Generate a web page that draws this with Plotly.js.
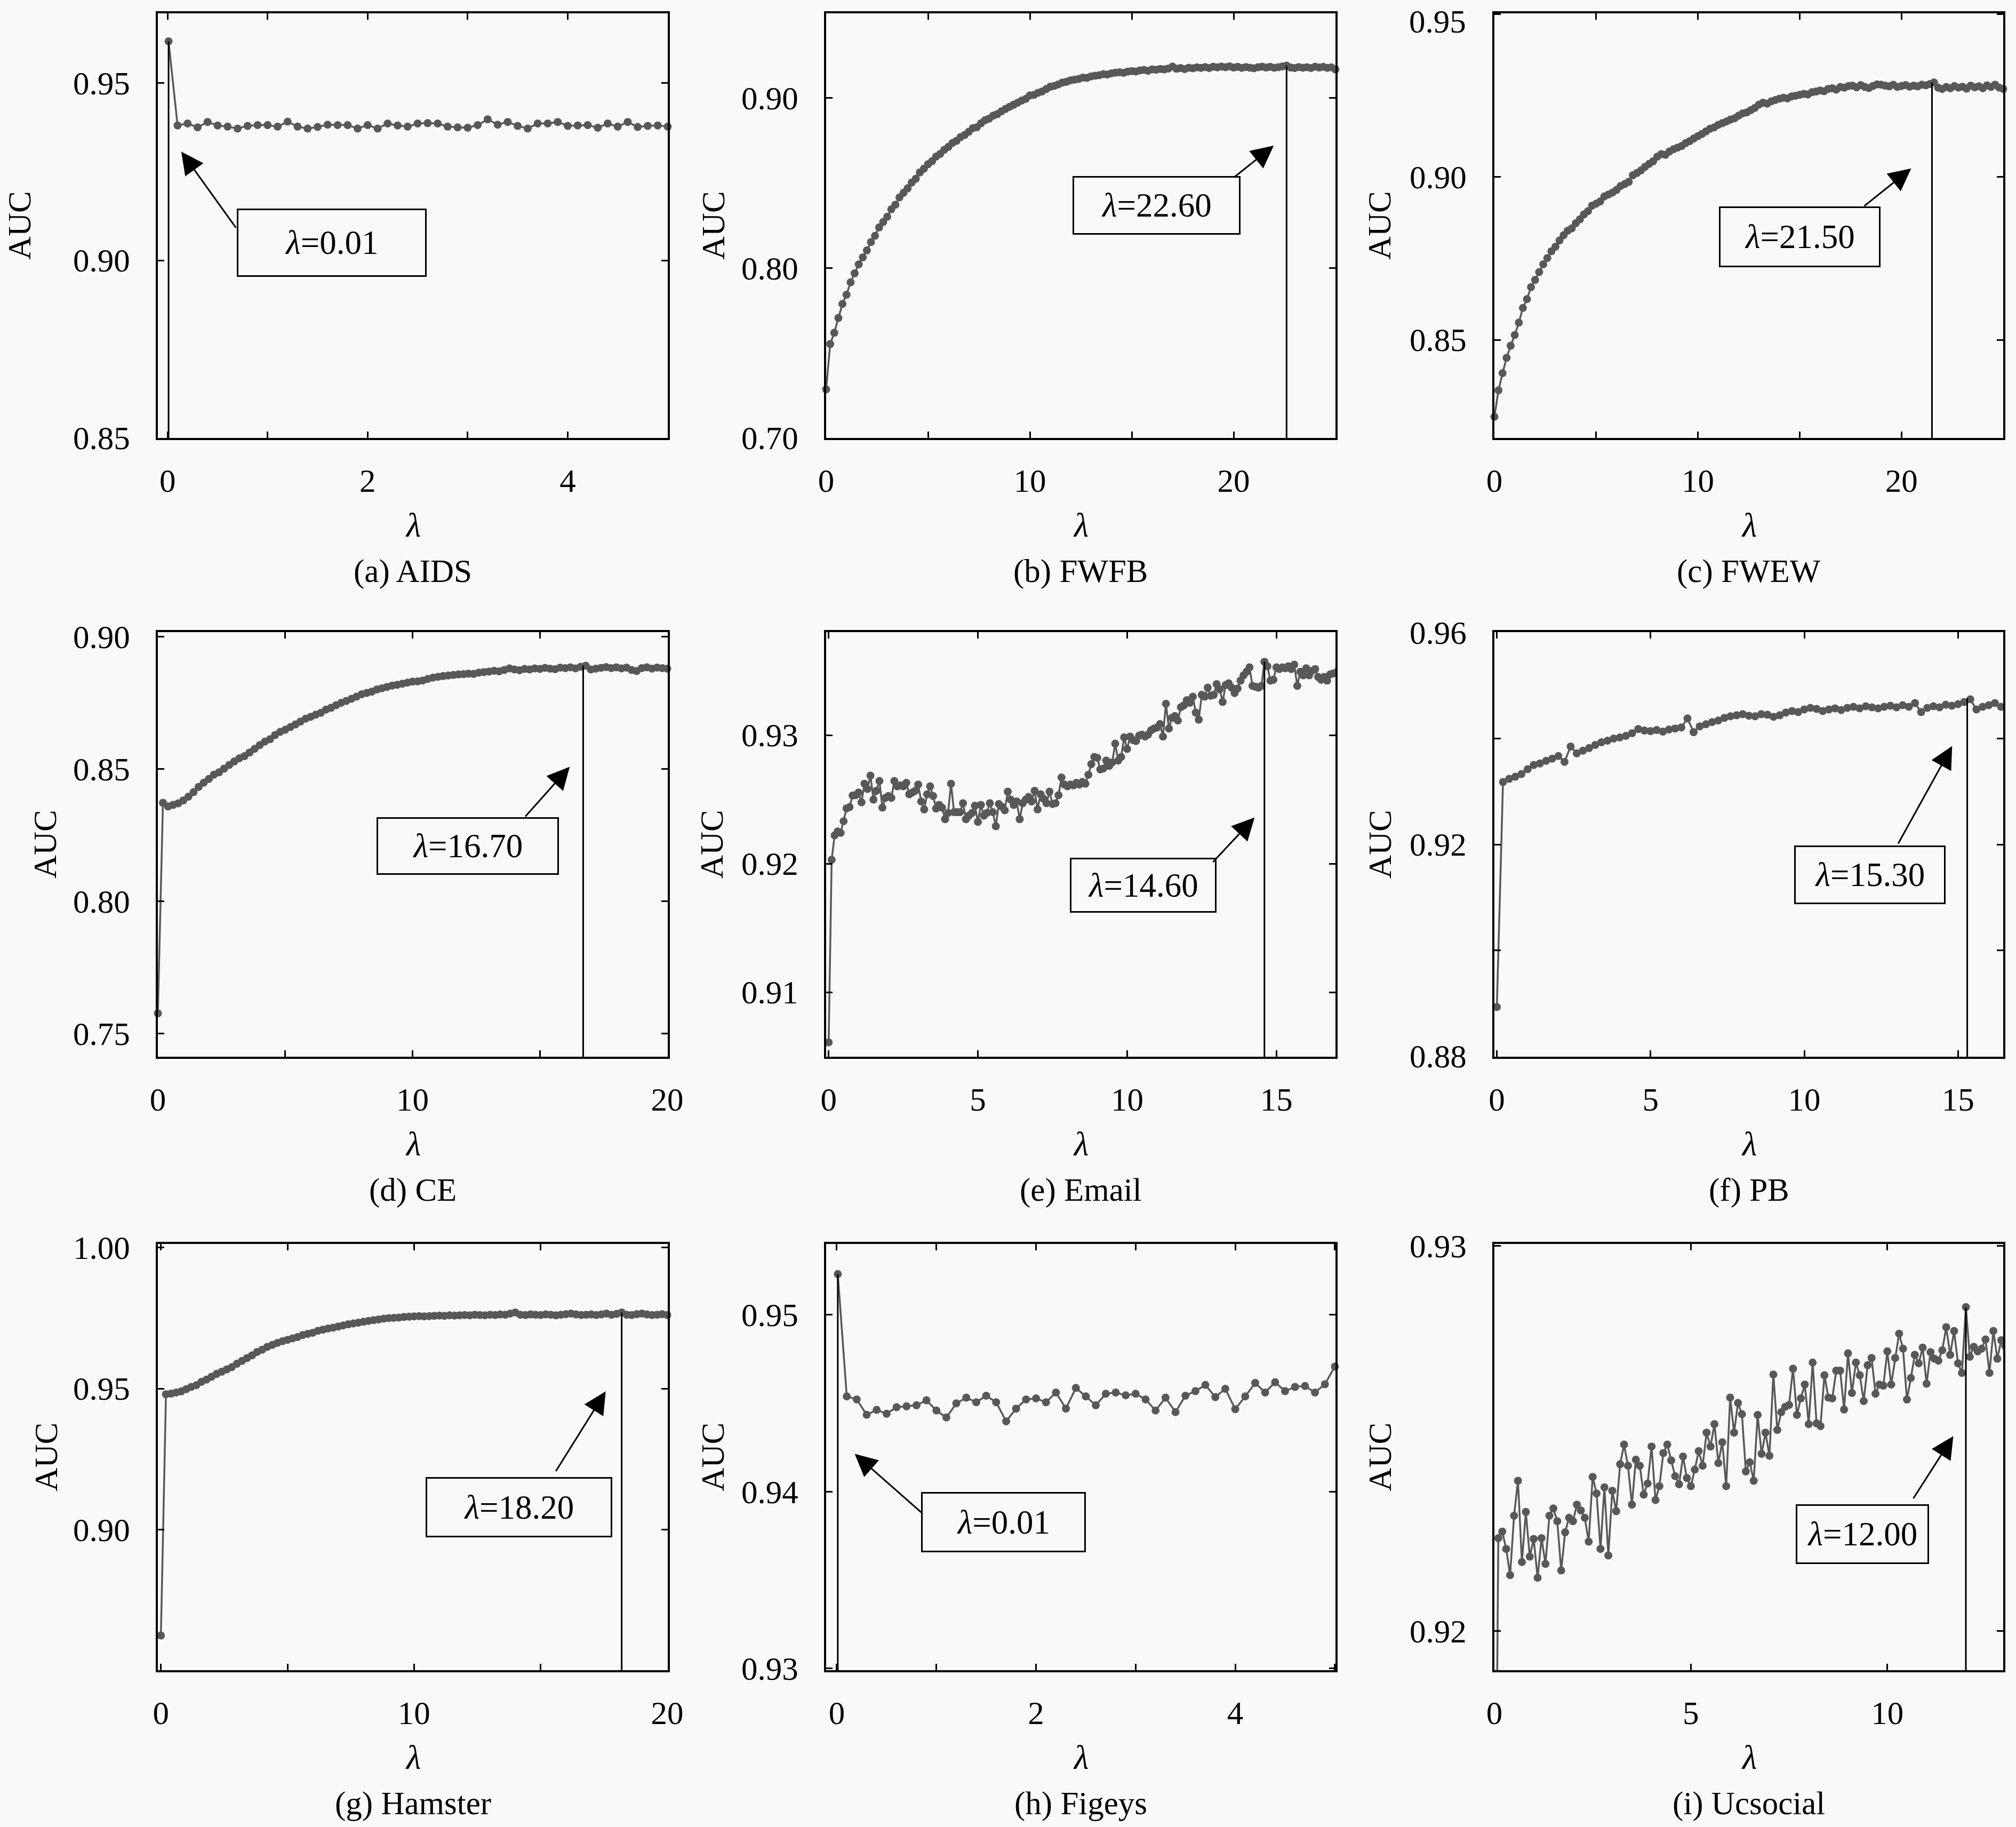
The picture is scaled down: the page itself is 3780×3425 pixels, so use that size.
<!DOCTYPE html>
<html>
<head>
<meta charset="utf-8">
<script src="https://cdn.plot.ly/plotly-3.0.1.min.js"></script>
<style>
  html, body { margin: 0; padding: 0; background: #f9f9f9; }
</style>
</head>
<body>
<div id="chart"></div>
<script>
// lambda grids: helper to build evenly stepped lambda values
function steps(start, step, n) {
    var out = [];
    for (var i = 0; i < n; i++) out.push(+(start + i * step).toFixed(3));
    return out;
}

// ---- AUC values ----
var AUC_AIDS = [0.9618,
    0.93807, 0.93861, 0.93753, 0.93905, 0.93807, 0.93774, 0.9372, 0.93796, 0.93818, 0.93818,
    0.93774, 0.93915, 0.93774, 0.9372, 0.93764, 0.93829, 0.93818, 0.93818, 0.9372, 0.93818,
    0.9372, 0.93861, 0.93807, 0.93774, 0.93861, 0.93872, 0.93861, 0.93774, 0.93753, 0.93742,
    0.93818, 0.9398, 0.93829, 0.93905, 0.93796, 0.9372, 0.93861, 0.93861, 0.93905, 0.93796,
    0.93807, 0.93818, 0.93742, 0.93861, 0.93774, 0.93905, 0.93764, 0.93796, 0.93807, 0.93774];

var AUC_FWFB = [0.7285, 0.7552, 0.7618, 0.7705, 0.7788, 0.7842, 0.7915, 0.7968, 0.8021, 0.8062,
    0.8103, 0.8152, 0.8189, 0.8238, 0.8270, 0.8301, 0.8345, 0.8372, 0.8415, 0.8442,
    0.8468, 0.8502, 0.8525, 0.8562, 0.8584, 0.8610, 0.8628, 0.8655, 0.8671, 0.8695,
    0.8712, 0.8735, 0.8748, 0.8770, 0.8782, 0.8801, 0.8822, 0.8828, 0.8851, 0.8869,
    0.8878, 0.8896, 0.8905, 0.8921, 0.8935, 0.8948, 0.8960, 0.8972, 0.8985, 0.8995,
    0.9015, 0.9018, 0.9030, 0.9038, 0.9052, 0.9066, 0.9071, 0.9080, 0.9091, 0.9095,
    0.9104, 0.9108, 0.9112, 0.9120, 0.9118, 0.9127, 0.9131, 0.9134, 0.9140, 0.9138,
    0.9145, 0.9149, 0.9151, 0.9148, 0.9155, 0.9158, 0.9156, 0.9162, 0.9165, 0.9160,
    0.9168, 0.9166, 0.9171, 0.9168, 0.9173, 0.9185, 0.9172, 0.9176, 0.9170, 0.9178,
    0.9175, 0.9180, 0.9177, 0.9182, 0.9176, 0.9184, 0.9180, 0.9185, 0.9181, 0.9186,
    0.9179, 0.9183, 0.9177, 0.9182, 0.9178, 0.9175, 0.9181, 0.9184, 0.9179, 0.9183,
    0.9178, 0.9181, 0.9186, 0.9190, 0.9179, 0.9176, 0.9182, 0.9178, 0.9181, 0.9176,
    0.9184, 0.9179, 0.9183, 0.9177, 0.9180, 0.9168];

var AUC_FWEW = [0.8264, 0.8345, 0.8398, 0.8445, 0.8482, 0.8515, 0.8553, 0.8598, 0.8625, 0.8662,
    0.8684, 0.8708, 0.8732, 0.8751, 0.8772, 0.8786, 0.8805, 0.8821, 0.8835, 0.8842,
    0.8858, 0.8870, 0.8885, 0.8895, 0.8912, 0.8918, 0.8925, 0.8940, 0.8946, 0.8952,
    0.8960, 0.8972, 0.8978, 0.8985, 0.9005, 0.9012, 0.9020, 0.9031, 0.9040, 0.9048,
    0.9062, 0.9070, 0.9068, 0.9078, 0.9085, 0.9090, 0.9095, 0.9104, 0.9110, 0.9118,
    0.9125, 0.9132, 0.9140, 0.9148, 0.9152, 0.9160, 0.9165, 0.9170, 0.9176, 0.9180,
    0.9188, 0.9195, 0.9198, 0.9205, 0.9212, 0.9222, 0.9228, 0.9225, 0.9232, 0.9236,
    0.9240, 0.9243, 0.9241, 0.9247, 0.9249, 0.9252, 0.9255, 0.9253, 0.9260, 0.9262,
    0.9265, 0.9263, 0.9270, 0.9272, 0.9268, 0.9276, 0.9274, 0.9279, 0.9280, 0.9275,
    0.9282, 0.9276, 0.9273, 0.9279, 0.9284, 0.9283, 0.9280, 0.9278, 0.9283, 0.9276,
    0.9279, 0.9282, 0.9277, 0.9280, 0.9278, 0.9283, 0.9281, 0.9285, 0.9290, 0.9274,
    0.9270, 0.9276, 0.9272, 0.9279, 0.9274, 0.9277, 0.9271, 0.9280, 0.9275, 0.9278,
    0.9272, 0.9281, 0.9276, 0.9283, 0.9274, 0.9270];

var AUC_CE = [0.7576, 0.8372, 0.8358, 0.8364, 0.8370, 0.8381, 0.8395, 0.8412, 0.8432, 0.8448,
    0.8462, 0.8478, 0.8487, 0.8501, 0.8515, 0.8528, 0.8540, 0.8548, 0.8562, 0.8576,
    0.8590, 0.8603, 0.8612, 0.8628, 0.8640, 0.8648, 0.8658, 0.8668, 0.8679, 0.8690,
    0.8697, 0.8705, 0.8712, 0.8724, 0.8731, 0.8741, 0.8750, 0.8757, 0.8765, 0.8773,
    0.8782, 0.8787, 0.8792, 0.8800, 0.8805, 0.8810, 0.8815, 0.8818, 0.8822, 0.8826,
    0.8830, 0.8831, 0.8834, 0.8840, 0.8845, 0.8848, 0.8851, 0.8853, 0.8855, 0.8857,
    0.8858, 0.8860, 0.8859, 0.8864, 0.8866, 0.8868, 0.8871, 0.8869, 0.8874, 0.8880,
    0.8876, 0.8873, 0.8878, 0.8876, 0.8880, 0.8878, 0.8882, 0.8879, 0.8877, 0.8883,
    0.8881, 0.8884, 0.8880, 0.8886, 0.8890, 0.8876, 0.8879, 0.8882, 0.8885, 0.8881,
    0.8884, 0.8880, 0.8883, 0.8874, 0.8870, 0.8881, 0.8884, 0.8879, 0.8883, 0.8881,
    0.8879];

var AUC_EMAIL = [0.9061, 0.9203, 0.9222, 0.9225, 0.9224, 0.9233, 0.9243, 0.9244, 0.9253, 0.92532,
    0.92553, 0.92477, 0.92622, 0.92581, 0.92685, 0.92498, 0.92567, 0.92643, 0.92436, 0.92512,
    0.92526, 0.92512, 0.92643, 0.92602, 0.92609, 0.92602, 0.92629, 0.9254, 0.92553, 0.92567,
    0.92615, 0.92484, 0.92422, 0.9254, 0.92602, 0.92526, 0.92429, 0.92457, 0.92436, 0.92346,
    0.92394, 0.92622, 0.92401, 0.92401, 0.92401, 0.9247, 0.92346, 0.92374, 0.92394, 0.9245,
    0.92325, 0.92457, 0.92374, 0.92394, 0.9247, 0.92401, 0.92291, 0.92464, 0.92443, 0.92415,
    0.9256, 0.92498, 0.92457, 0.92484, 0.92346, 0.9247, 0.92498, 0.92519, 0.92484, 0.92567,
    0.92422, 0.9254, 0.92505, 0.9247, 0.9256, 0.92464, 0.9247, 0.92532, 0.9267, 0.92615,
    0.92602, 0.92615, 0.92609, 0.92629, 0.92615, 0.92636, 0.92622, 0.92691, 0.92774, 0.9283,
    0.92823, 0.92733, 0.9274, 0.92802, 0.92761, 0.92788, 0.92934, 0.92802, 0.9283, 0.92982,
    0.92892, 0.92989, 0.92961, 0.92954, 0.92996, 0.93003, 0.92989, 0.93003, 0.93037, 0.93051,
    0.93058, 0.93086, 0.92989, 0.93244, 0.93051, 0.93134, 0.93148, 0.93113, 0.93217, 0.93231,
    0.93272, 0.93251, 0.93299, 0.93175, 0.9312, 0.93313, 0.93299, 0.93369, 0.93306, 0.93313,
    0.93396, 0.93355, 0.93258, 0.93389, 0.93403, 0.93369, 0.93327, 0.93362, 0.93424, 0.93465,
    0.93493, 0.93527, 0.93383, 0.93376, 0.93369, 0.93383, 0.9357, 0.93535, 0.93424, 0.93431,
    0.93527, 0.93514, 0.93527, 0.9352, 0.93535, 0.93514, 0.93548, 0.93383, 0.93493, 0.93465,
    0.9352, 0.93465, 0.935, 0.93514, 0.93452, 0.93431, 0.93452, 0.93424, 0.93472, 0.93479,
    0.9352];

var AUC_PB = [0.8893, 0.9318, 0.9324, 0.9328, 0.9333, 0.9342, 0.9350, 0.9353, 0.9358, 0.9362,
    0.9367, 0.9356, 0.9385, 0.9372, 0.9377, 0.9382, 0.9388, 0.9393, 0.9396, 0.9400,
    0.9402, 0.9405, 0.9410, 0.9418, 0.9415, 0.9414, 0.9416, 0.9413, 0.9417, 0.9419,
    0.9421, 0.9438, 0.9412, 0.9423, 0.9427, 0.9431, 0.9434, 0.9439, 0.9442, 0.9444,
    0.9446, 0.9443, 0.9442, 0.9446, 0.9445, 0.9441, 0.9444, 0.9449, 0.9452, 0.9450,
    0.9455, 0.9458, 0.9456, 0.9452, 0.9455, 0.9457, 0.9454, 0.9458, 0.9460, 0.9457,
    0.9461, 0.9459, 0.9457, 0.9460, 0.9462, 0.9459, 0.9463, 0.9460, 0.9467, 0.9450,
    0.9458, 0.9461, 0.9459, 0.9464, 0.9462, 0.9465, 0.9469, 0.9474, 0.9455, 0.9460,
    0.9463, 0.9467, 0.9460];

var AUC_HAMSTER = [0.8624, 0.9480, 0.9482, 0.9486, 0.9490, 0.9498, 0.9506, 0.9512, 0.9524, 0.9532,
    0.9542, 0.9552, 0.9560, 0.9568, 0.9576, 0.9588, 0.9598, 0.9608, 0.9618, 0.9630,
    0.9638, 0.9648, 0.9655, 0.9662, 0.9668, 0.9673, 0.9678, 0.9683, 0.9690, 0.9694,
    0.9698, 0.9705, 0.9709, 0.9713, 0.9716, 0.9720, 0.9724, 0.9728, 0.9731, 0.9734,
    0.9737, 0.9740, 0.9743, 0.9745, 0.9748, 0.9750, 0.9751, 0.9752, 0.9754, 0.9755,
    0.9756, 0.9757, 0.9756, 0.9757, 0.9758, 0.9759, 0.9758, 0.9760, 0.9759, 0.9760,
    0.9761, 0.9760, 0.9762, 0.9761, 0.9760, 0.9762, 0.9761, 0.9763, 0.9762, 0.9766,
    0.9770, 0.9762, 0.9761, 0.9763, 0.9762, 0.9761, 0.9763, 0.9762, 0.9760, 0.9762,
    0.9764, 0.9766, 0.9763, 0.9761, 0.9762, 0.9763, 0.9761, 0.9763, 0.9766, 0.9762,
    0.9765, 0.9770, 0.9762, 0.9761, 0.9764, 0.9766, 0.9763, 0.9761, 0.9762, 0.9764,
    0.9761];

var AUC_FIGEYS = [0.9523,
    0.94538, 0.94521, 0.94434, 0.94462, 0.9444, 0.94477, 0.94482, 0.94488, 0.94516, 0.94458,
    0.94419, 0.94499, 0.94531, 0.94505, 0.94542, 0.94505, 0.94397, 0.94469, 0.94521, 0.94527,
    0.94505, 0.9456, 0.94469, 0.94586, 0.94538, 0.94488, 0.94553, 0.9456, 0.94544, 0.94553,
    0.94521, 0.94458, 0.94531, 0.94449, 0.94542, 0.94568, 0.94603, 0.94534, 0.94581, 0.94466,
    0.94538, 0.94614, 0.9456, 0.94618, 0.94568, 0.94592, 0.94597, 0.9456, 0.94607, 0.94707];

var AUC_UCSOCIAL = [0.9100,
    0.92241, 0.92258, 0.92213, 0.92145, 0.92299, 0.9239, 0.92179, 0.92309, 0.92193, 0.92239,
    0.92138, 0.92241, 0.92174, 0.92299, 0.92318, 0.92285, 0.92157, 0.92256, 0.92294, 0.92285,
    0.92328, 0.92313, 0.92294, 0.92232, 0.924, 0.92357, 0.92213, 0.92373, 0.92196, 0.92364,
    0.92311, 0.92433, 0.92484, 0.92429, 0.92328, 0.92445, 0.92429, 0.92354, 0.92383, 0.92479,
    0.9234, 0.92376, 0.92462, 0.92484, 0.92443, 0.92402, 0.92381, 0.92453, 0.92397, 0.92376,
    0.92419, 0.92467, 0.92429, 0.92515, 0.92479, 0.92537, 0.92436, 0.9249, 0.92376, 0.92606,
    0.92515, 0.92592, 0.92563, 0.92414, 0.92438, 0.9239, 0.92561, 0.9246, 0.92515, 0.92455,
    0.92666, 0.92522, 0.92568, 0.92582, 0.92587, 0.92681, 0.92561, 0.92604, 0.9264, 0.92537,
    0.92697, 0.92539, 0.92532, 0.92664, 0.92606, 0.92604, 0.92676, 0.92676, 0.92575, 0.92721,
    0.92618, 0.92697, 0.92664, 0.92597, 0.9269, 0.92709, 0.92616, 0.9264, 0.92637, 0.92726,
    0.9264, 0.92709, 0.92772, 0.92733, 0.92601, 0.92657, 0.92717, 0.92695, 0.92736, 0.92642,
    0.92724, 0.92707, 0.92702, 0.92729, 0.92789, 0.92717, 0.92779, 0.92695, 0.9267, 0.92841,
    0.92712, 0.92738, 0.92726, 0.92733, 0.92757, 0.9267, 0.92779, 0.92707, 0.92755, 0.9274];

// lambda values for each series
var LAM_AIDS = [0.01].concat(steps(0.1, 0.1, AUC_AIDS.length - 1));
var LAM_FWFB = steps(0, 0.2, AUC_FWFB.length);
var LAM_FWEW = steps(0, 0.2, AUC_FWEW.length);
var LAM_CE = steps(0, 0.2, AUC_CE.length);
var LAM_EMAIL = steps(0, 0.1, AUC_EMAIL.length);
var LAM_PB = steps(0, 0.2, AUC_PB.length);
var LAM_HAMSTER = steps(0, 0.2, AUC_HAMSTER.length);
var LAM_FIGEYS = [0.01].concat(steps(0.1, 0.1, AUC_FIGEYS.length - 1));
var LAM_UCSOCIAL = steps(0, 0.1, AUC_UCSOCIAL.length);

// best lambda per dataset and AUC at that point
var BEST_LAM = [0.01, 22.6, 21.5, 16.7, 14.6, 15.3, 18.2, 0.01, 12.0];
var BEST_AUC = [0.9618, 0.919, 0.929, 0.889, 0.9357, 0.9476, 0.977, 0.9523, 0.9284];
var BEST_TEXT = ["0.01", "22.60", "21.50", "16.70", "14.60", "15.30", "18.20", "0.01", "12.00"];
var CAPTIONS = ["(a) AIDS", "(b) FWFB", "(c) FWEW", "(d) CE", "(e) Email", "(f) PB",
    "(g) Hamster", "(h) Figeys", "(i) Ucsocial"];

// top-edge tick label of panel (c) sits just under the frame, drawn as a note
var TOP_LABEL_C = "0.95";

var panels = [
    {x: LAM_AIDS, y: AUC_AIDS, xr: [-0.097, 5.0], yr: [0.8499, 0.9697],
     xt: [0, 1, 2, 3, 4, 5], xl: ["0", "", "2", "", "4", ""],
     yt: [0.85, 0.90, 0.95], yl: ["0.85", "0.90", "0.95"],
     tail: [0.689, 0.909], tip: [0.137, 0.9307], box: [1.64, 0.905, 356, 128], auc: 37},
    {x: LAM_FWFB, y: AUC_FWFB, xr: [0, 25.0], yr: [0.6999, 0.9498],
     xt: [0, 5, 10, 15, 20, 25], xl: ["0", "", "10", "", "20", ""],
     yt: [0.70, 0.80, 0.90], yl: ["0.70", "0.80", "0.90"],
     tail: [19.98, 0.8529], tip: [21.97, 0.8719], box: [16.21, 0.8367, 315, 110], auc: 1338},
    {x: LAM_FWEW, y: AUC_FWEW, xr: [0, 25.0], yr: [0.8199, 0.9502],
     xt: [0, 5, 10, 15, 20, 25], xl: ["0", "", "10", "", "20", ""],
     yt: [0.85, 0.90, 0.95], yl: ["0.85", "0.90", ""],
     tail: [18.14, 0.8909], tip: [20.48, 0.9026], box: [15.0, 0.8816, 303, 114], auc: 2587,
     topLabel: TOP_LABEL_C},
    {x: LAM_CE, y: AUC_CE, xr: [0, 20.02], yr: [0.7412, 0.9017],
     xt: [0, 5, 10, 15, 20], xl: ["0", "", "10", "", "20"],
     yt: [0.75, 0.80, 0.85, 0.90], yl: ["0.75", "0.80", "0.85", "0.90"],
     tail: [14.4, 0.8317], tip: [16.17, 0.8508], box: [12.16, 0.8208, 342, 108], auc: 84},
    {x: LAM_EMAIL, y: AUC_EMAIL, xr: [-0.085, 16.98], yr: [0.90498, 0.93801],
     xt: [0, 5, 10, 15], xl: ["0", "5", "10", "15"],
     yt: [0.91, 0.92, 0.93], yl: ["0.91", "0.92", "0.93"],
     tail: [12.85, 0.92006], tip: [14.27, 0.92359], box: [10.53, 0.91833, 275, 103], auc: 1334},
    {x: LAM_PB, y: AUC_PB, xr: [-0.08, 16.47], yr: [0.8799, 0.9601],
     xt: [0, 5, 10, 15], xl: ["0", "5", "10", "15"],
     yt: [0.88, 0.90, 0.92, 0.94, 0.96], yl: ["0.88", "", "0.92", "", "0.96"],
     tail: [13.04, 0.92], tip: [14.81, 0.9386], box: [12.14, 0.9143, 284, 110], auc: 2587},
    {x: LAM_HAMSTER, y: AUC_HAMSTER, xr: [-0.12, 20.02], yr: [0.8501, 1.0013],
     xt: [0, 5, 10, 15, 20], xl: ["0", "", "10", "", "20"],
     yt: [0.90, 0.95, 1.00], yl: ["0.90", "0.95", "1.00"],
     tail: [15.58, 0.9204], tip: [17.57, 0.949], box: [14.14, 0.908, 350, 113], auc: 86},
    {x: LAM_FIGEYS, y: AUC_FIGEYS, xr: [-0.107, 5.006], yr: [0.9299, 0.954],
     xt: [0, 1, 2, 3, 4, 5], xl: ["0", "", "2", "", "4", ""],
     yt: [0.93, 0.94, 0.95], yl: ["0.93", "0.94", "0.95"],
     tail: [0.869, 0.93872], tip: [0.18, 0.94213], box: [1.673, 0.93826, 309, 113], auc: 1336},
    {x: LAM_UCSOCIAL, y: AUC_UCSOCIAL, xr: [0, 12.95], yr: [0.91898, 0.93005],
     xt: [0, 5, 10], xl: ["0", "5", "10"],
     yt: [0.92, 0.93], yl: ["0.92", "0.93"],
     tail: [10.65, 0.92342], tip: [11.68, 0.92506], box: [9.36, 0.92251, 250, 112], auc: 2587, clip: true}
];

var W = 3780, H = 3425;
var colL = [296, 1549, 2802], colR = [1252, 2504, 3756];
var rowT = [25, 1185, 2332], rowB = [821, 1981, 3131];
var FONT = "Liberation Serif, DejaVu Serif, serif";
var FS = 61;
var GRAY = "#585858";

var traces = [];
var layout = {
    width: W, height: H,
    margin: {l: 0, r: 0, t: 0, b: 0},
    paper_bgcolor: "#f9f9f9",
    plot_bgcolor: "#f9f9f9",
    showlegend: false,
    font: {family: FONT, size: FS, color: "#000"},
    annotations: [],
    shapes: []
};

function axisBase() {
    return {
        ticks: "inside", ticklen: 12, tickwidth: 3, tickcolor: "#000",
        showline: true, linewidth: 4, linecolor: "#000", mirror: "ticks",
        showgrid: false, zeroline: false, fixedrange: true,
        ticklabeloverflow: "allow",
        tickfont: {family: FONT, size: FS, color: "#000"}
    };
}

panels.forEach(function (p, i) {
    var k = i + 1;
    var sfx = k > 1 ? String(k) : "";
    var row = Math.floor(i / 3), col = i % 3;
    var xa = "x" + sfx, ya = "y" + sfx;

    traces.push({
        x: p.x, y: p.y, xaxis: xa, yaxis: ya,
        type: "scatter", mode: "lines+markers",
        line: {color: GRAY, width: 3.5},
        marker: {color: GRAY, size: 15},
        cliponaxis: !!p.clip,
        hoverinfo: "skip"
    });

    var xax = axisBase();
    xax.domain = [colL[col] / W, colR[col] / W];
    xax.range = p.xr;
    xax.tickmode = "array";
    xax.tickvals = p.xt;
    xax.ticktext = p.xl;
    xax.anchor = ya;
    xax.ticklabelstandoff = 24;
    layout["xaxis" + sfx] = xax;

    var yax = axisBase();
    yax.domain = [1 - rowB[row] / H, 1 - rowT[row] / H];
    yax.range = p.yr;
    yax.tickmode = "array";
    yax.tickvals = p.yt;
    yax.ticktext = p.yl;
    yax.anchor = xa;
    yax.ticklabelstandoff = 36;
    layout["yaxis" + sfx] = yax;

    if (p.topLabel) {
        layout.annotations.push({
            xref: "paper", yref: "paper", x: (colL[col] - 51) / W, y: 1 - 40 / H,
            text: p.topLabel, showarrow: false,
            xanchor: "right", yanchor: "middle", font: {family: FONT, size: FS, color: "#000"}
        });
    }

    // vertical marker at the best lambda
    layout.shapes.push({
        type: "line", xref: xa, yref: ya,
        x0: BEST_LAM[i], x1: BEST_LAM[i], y0: p.yr[0], y1: BEST_AUC[i],
        line: {color: "#000", width: 3}
    });

    var cx = (colL[col] + colR[col]) / 2;
    // axis titles and caption
    layout.annotations.push({
        xref: "paper", yref: "paper", x: p.auc / W, y: 1 - ((rowT[row] + rowB[row]) / 2) / H,
        text: "AUC", textangle: -90, showarrow: false,
        xanchor: "center", yanchor: "middle", font: {family: FONT, size: FS, color: "#000"}
    });
    layout.annotations.push({
        xref: "paper", yref: "paper", x: cx / W, y: 1 - (rowB[row] + 164) / H,
        text: "<i>λ</i>", showarrow: false,
        xanchor: "center", yanchor: "middle", font: {family: FONT, size: FS + 2, color: "#000"}
    });
    layout.annotations.push({
        xref: "paper", yref: "paper", x: cx / W, y: 1 - (rowB[row] + 250) / H,
        text: CAPTIONS[i], showarrow: false,
        xanchor: "center", yanchor: "middle", font: {family: FONT, size: FS, color: "#000"}
    });

    // label box
    layout.annotations.push({
        xref: xa, yref: ya, x: p.box[0], y: p.box[1],
        text: "<i>λ</i>=" + BEST_TEXT[i], showarrow: false,
        xanchor: "center", yanchor: "middle",
        width: p.box[2] - 6, height: p.box[3] - 6, borderpad: 0,
        bordercolor: "#000", borderwidth: 3, bgcolor: "#f9f9f9",
        font: {family: FONT, size: FS + 2, color: "#000"}
    });
    // arrow from box to the curve
    layout.annotations.push({
        xref: xa, yref: ya, x: p.tip[0], y: p.tip[1],
        axref: xa, ayref: ya, ax: p.tail[0], ay: p.tail[1],
        text: "", showarrow: true,
        arrowhead: 2, arrowsize: 2.8, arrowwidth: 3, arrowcolor: "#000", standoff: 0
    });
});

Plotly.newPlot("chart", traces, layout, {staticPlot: true});
</script>
</body>
</html>
